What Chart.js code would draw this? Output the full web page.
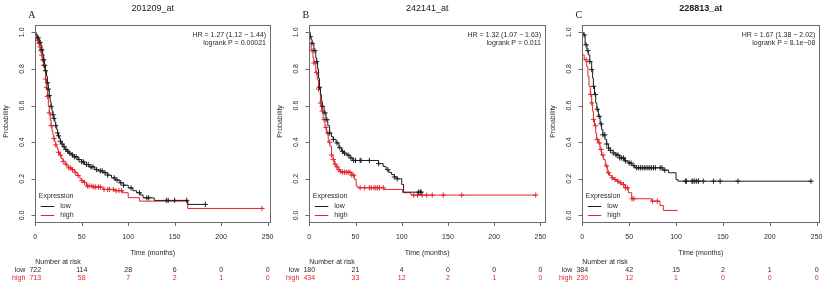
<!DOCTYPE html>
<html><head><meta charset="utf-8">
<script src="https://cdn.jsdelivr.net/npm/chart.js@4/dist/chart.umd.min.js"></script>
<style>
html,body{margin:0;padding:0;background:#fff;}
#wrap{position:relative;width:825px;height:287px;overflow:hidden;background:#fff;}
canvas{position:absolute;top:0;}
</style></head>
<body><div id="wrap">
<canvas id="cA" width="275" height="287" style="left:0px"></canvas>
<canvas id="cB" width="275" height="287" style="left:275px"></canvas>
<canvas id="cC" width="275" height="287" style="left:550px"></canvas>
</div>
<script>
// ---- text / tick data ----
const panelLetters = ['A', 'B', 'C'];
const panelTitles = ['201209_at', '242141_at', '228813_at'];
const hrLabels = ['HR = 1.27 (1.12 \u2212 1.44)', 'HR = 1.32 (1.07 \u2212 1.63)', 'HR = 1.67 (1.38 \u2212 2.02)'];
const pLabels = ['logrank P = 0.00021', 'logrank P = 0.011', 'logrank P = 8.1e\u221208'];
const xTicks = [0, 50, 100, 150, 200, 250];
const yTicks = [0, 0.2, 0.4, 0.6, 0.8, 1.0];
const yTickLabels = ['0.0', '0.2', '0.4', '0.6', '0.8', '1.0'];
const seriesNames = ['low', 'high'];
const riskTimes = [0, 50, 100, 150, 200, 250];

// ---- numbers at risk ----
const riskLowA = [722, 114, 28, 6, 0, 0];
const riskHighA = [713, 58, 7, 2, 1, 0];
const riskLowB = [180, 21, 4, 0, 0, 0];
const riskHighB = [434, 33, 12, 2, 1, 0];
const riskLowC = [384, 42, 15, 2, 1, 0];
const riskHighC = [230, 12, 1, 0, 0, 0];

// ---- Kaplan-Meier curves (time in months, survival probability) ----
const lowA_t = [0,1,2,3,4,5,6,7,8,9,10,11,12,13,14,15,16,17,18,19,20,21,22,23,24,25,26,27,28,30,32,34,36,39,42,46,50,53,58,64,68,73,78,82,86,91,95,100,105,109,113,116,128,164,183];
const lowA_s = [1.0,0.99,0.98,0.97,0.96,0.945,0.93,0.905,0.88,0.85,0.82,0.79,0.76,0.725,0.69,0.655,0.62,0.595,0.57,0.55,0.53,0.51,0.49,0.47,0.45,0.435,0.42,0.405,0.39,0.375,0.36,0.35,0.34,0.33,0.32,0.305,0.292,0.278,0.265,0.25,0.243,0.233,0.22,0.205,0.193,0.178,0.165,0.15,0.135,0.124,0.112,0.096,0.082,0.06,0.06];
const highA_t = [0,1,2,3,4,5,6,7,8,9,10,11,12,13,14,15,16,17,18,19,20,21,22,23,24,25,26,28,30,32,34,36,39,42,45,48,50,52,55,62,73,85,94,100,112,164,244];
const highA_s = [0.98,0.975,0.965,0.955,0.94,0.92,0.9,0.875,0.85,0.82,0.79,0.745,0.7,0.65,0.6,0.56,0.52,0.49,0.46,0.44,0.42,0.4,0.385,0.372,0.36,0.345,0.33,0.31,0.295,0.28,0.27,0.26,0.25,0.235,0.218,0.2,0.19,0.18,0.16,0.155,0.142,0.135,0.124,0.097,0.078,0.038,0.038];
const lowA_cens = [3,5,7,9,10,11,13,14,15,17,19,20,22,24,25,27,29,31,33,35,37,40,42,44,47,50,52,55,57,60,62,66,70,72,75,78,85,88,92,95,103,112,120,122,141,143,150,163,183];
const highA_cens = [1,2,3,4,5,6,7,8,9,11,12,13,15,17,20,22,25,27,30,33,36,38,40,43,46,50,53,56,58,61,63,65,68,70,74,78,80,84,87,90,93,244];

const lowB_t = [0,1,2,3,5,7,8,9,10,11,12,13,14,16,18,20,22,24,26,29,32,35,37,40,44,47,75,80,83,86,89,92,95,100,102,122];
const lowB_s = [1.0,0.977,0.96,0.94,0.9,0.86,0.84,0.8,0.75,0.7,0.66,0.625,0.596,0.56,0.523,0.49,0.45,0.43,0.415,0.396,0.37,0.35,0.34,0.33,0.314,0.3,0.283,0.267,0.25,0.235,0.223,0.21,0.2,0.169,0.127,0.127];
const highB_t = [0,2,4,5,7,8.6,10,12,13.5,15,17,18.7,20.5,22.3,24,25.8,27,29,31,33,35,46,49,50.8,52.6,81,101,110,245];
const highB_s = [0.94,0.9,0.86,0.832,0.78,0.74,0.69,0.614,0.57,0.523,0.48,0.45,0.4,0.378,0.33,0.305,0.28,0.265,0.25,0.24,0.236,0.22,0.196,0.16,0.151,0.142,0.124,0.111,0.111];
const lowB_cens = [1,3,6,8,11,14,17,19,22,26,30,33,36,38,42,45,48,50,55,56,65,75,85,92,95,118,120,121];
const highB_cens = [3,5,8,10,12,14,16,18,20,22,24,26,28,30,32,34,36,38,40,42,44,46,48,55,60,65,67,70,72,74,76,80,113,117,122,127,133,145,165,245];

const lowC_t = [0,1,3,5,6.4,8,10,11,11.8,13,14.3,15.5,17.1,19,20.6,22,24.2,26,27.8,30,33,36,40,45,49,53,56,86,92,100,102,244];
const lowC_s = [1.0,0.986,0.932,0.9,0.877,0.84,0.796,0.75,0.705,0.66,0.614,0.58,0.541,0.5,0.468,0.44,0.414,0.39,0.368,0.355,0.341,0.33,0.314,0.298,0.286,0.272,0.26,0.247,0.233,0.196,0.187,0.187];
const highC_t = [0,2,4.7,6,7.1,8.5,10,11,11.8,13,14.3,15.3,17.1,18.9,20.5,22.4,24.5,26.7,29,31.3,34,36.7,39,42,45.5,49.1,52.7,74,82.9,86.4,101.7];
const highC_s = [0.877,0.85,0.814,0.76,0.705,0.66,0.614,0.57,0.523,0.49,0.45,0.414,0.396,0.36,0.33,0.305,0.27,0.233,0.218,0.205,0.196,0.187,0.178,0.169,0.151,0.124,0.091,0.078,0.054,0.027,0.027];
const lowC_cens = [2,4,6,8,10,12,14,16,18,20,22,24,26,28,30,33,36,38,40,42,44,46,50,52,55,58,60,62,64,66,68,70,72,74,76,78,83,85,88,110,111,117,118,120,122,124,129,140,147,166,244];
const highC_cens = [4,9,10,12,14,16,18,20,22,26,28,32,35,38,41,44,46,48,53,55,75,80];

// ---- helpers ----
const BLACK = '#1e1e1e';
const RED = '#e3242b';
const FONT = '"Liberation Sans", Arial, Helvetica, sans-serif';

function curvePoints(ts, ss) { return ts.map((t, i) => ({x: t, y: ss[i]})); }
function survAt(ts, ss, t) { let v = ss[0]; for (let i = 0; i < ts.length; i++) { if (ts[i] <= t) v = ss[i]; } return v; }
function censorPoints(ts, ss, cens) { return cens.map(t => ({x: t, y: survAt(ts, ss, t)})); }

const kmDecor = {
  id: 'kmDecor',
  afterDatasetsDraw(chart, args, o) {
    const ctx = chart.ctx;
    const {left, right, top, bottom} = chart.chartArea;
    const xs = chart.scales.x, ys = chart.scales.y;
    ctx.save();
    // box
    ctx.strokeStyle = '#6a6a6a';
    ctx.lineWidth = 1;
    ctx.strokeRect(Math.round(left) + 0.5, Math.round(top) + 0.5, Math.round(right - left), Math.round(bottom - top));
    // x ticks
    ctx.fillStyle = '#2a2a2a';
    ctx.font = '7px ' + FONT;
    ctx.textAlign = 'center';
    ctx.textBaseline = 'middle';
    ctx.beginPath();
    xTicks.forEach(v => {
      const px = Math.round(xs.getPixelForValue(v)) + 0.5;
      ctx.moveTo(px, Math.round(bottom) + 0.5);
      ctx.lineTo(px, Math.round(bottom) + 4);
    });
    yTicks.forEach(v => {
      const py = Math.round(ys.getPixelForValue(v)) + 0.5;
      ctx.moveTo(Math.round(left) + 0.5, py);
      ctx.lineTo(Math.round(left) - 3.5, py);
    });
    ctx.stroke();
    xTicks.forEach(v => {
      ctx.fillText(String(v), xs.getPixelForValue(v), bottom + 14.7);
    });
    // y tick labels (rotated)
    yTicks.forEach((v, i) => {
      ctx.save();
      ctx.translate(left - 13, ys.getPixelForValue(v));
      ctx.rotate(-Math.PI / 2);
      ctx.fillText(yTickLabels[i], 0, 0);
      ctx.restore();
    });
    // y title
    ctx.save();
    ctx.translate(left - 29.5, (top + bottom) / 2 - 2);
    ctx.rotate(-Math.PI / 2);
    ctx.fillText('Probability', 0, 0);
    ctx.restore();
    // x title
    ctx.fillText('Time (months)', (left + right) / 2, 253.3);
    // HR text
    ctx.textAlign = 'right';
    ctx.fillText(o.hr, right - 4, top + 9.7);
    ctx.fillText(o.p, right - 4, top + 18.3);
    // legend
    ctx.textAlign = 'left';
    ctx.fillText('Expression', left + 3.5, bottom - 26.3);
    ctx.fillText(seriesNames[0], left + 25, bottom - 15.7);
    ctx.fillText(seriesNames[1], left + 25, bottom - 6.7);
    ctx.lineWidth = 1;
    ctx.strokeStyle = BLACK;
    ctx.beginPath(); ctx.moveTo(left + 5.5, Math.round(bottom - 15.7) + 0.5); ctx.lineTo(left + 19, Math.round(bottom - 15.7) + 0.5); ctx.stroke();
    ctx.strokeStyle = RED;
    ctx.beginPath(); ctx.moveTo(left + 5.5, Math.round(bottom - 6.7) + 0.5); ctx.lineTo(left + 19, Math.round(bottom - 6.7) + 0.5); ctx.stroke();
    // title
    ctx.textAlign = 'center';
    ctx.font = (o.bold ? 'bold ' : '') + '9px ' + FONT;
    ctx.fillStyle = '#1a1a1a';
    ctx.fillText(o.title, (left + right) / 2, 8.5);
    // letter
    ctx.font = '10px "Liberation Serif", "Times New Roman", serif';
    ctx.fillText(o.letter, left - 3.5, 15.5);
    // risk table
    ctx.font = '7px ' + FONT;
    ctx.fillStyle = '#2a2a2a';
    ctx.textAlign = 'left';
    ctx.fillText('Number at risk', left, 262.3);
    ctx.textAlign = 'right';
    ctx.fillText(seriesNames[0], left - 10, 269.7);
    ctx.fillStyle = RED;
    ctx.fillText(seriesNames[1], left - 10, 277.7);
    ctx.textAlign = 'center';
    riskTimes.forEach((t, i) => {
      const px = xs.getPixelForValue(t);
      ctx.fillStyle = '#2a2a2a';
      ctx.fillText(String(o.riskLow[i]), px, 269.7);
      ctx.fillStyle = RED;
      ctx.fillText(String(o.riskHigh[i]), px, 277.7);
    });
    ctx.restore();
  }
};

function makeChart(id, idx, xmax, padL, padR, lowT, lowS, lowCens, highT, highS, highCens, riskLow, riskHigh) {
  const lineDs = (pts, color) => ({
    data: pts, borderColor: color, backgroundColor: color, borderWidth: 1,
    stepped: true, pointRadius: 0, tension: 0, fill: false
  });
  const censDs = (pts, color) => ({
    data: pts, borderColor: color, backgroundColor: color, borderWidth: 1,
    showLine: false, pointStyle: 'cross', pointRadius: 2.6, pointBorderWidth: 1
  });
  new Chart(document.getElementById(id), {
    type: 'line',
    data: {
      datasets: [
        censDs(censorPoints(lowT, lowS, lowCens), BLACK),
        lineDs(curvePoints(lowT, lowS), BLACK),
        censDs(censorPoints(highT, highS, highCens), RED),
        lineDs(curvePoints(highT, highS), RED)
      ]
    },
    options: {
      responsive: false, animation: false, devicePixelRatio: 1, events: [],
      layout: {padding: {left: padL, right: padR, top: 25, bottom: 65}},
      scales: {
        x: {type: 'linear', min: 0, max: xmax, display: false},
        y: {type: 'linear', min: -0.036, max: 1.04, display: false}
      },
      plugins: {
        legend: {display: false}, tooltip: {enabled: false},
        kmDecor: {title: panelTitles[idx], letter: panelLetters[idx], bold: idx === 2,
                  hr: hrLabels[idx], p: pLabels[idx], riskLow: riskLow, riskHigh: riskHigh}
      }
    },
    plugins: [kmDecor]
  });
}

makeChart('cA', 0, 252.6, 35.3, 4.3, lowA_t, lowA_s, lowA_cens, highA_t, highA_s, highA_cens, riskLowA, riskHighA);
makeChart('cB', 1, 255, 34.3, 1.7, lowB_t, lowB_s, lowB_cens, highB_t, highB_s, highB_cens, riskLowB, riskHighB);
makeChart('cC', 2, 252.8, 32.3, 5.7, lowC_t, lowC_s, lowC_cens, highC_t, highC_s, highC_cens, riskLowC, riskHighC);
</script>
</body></html>
